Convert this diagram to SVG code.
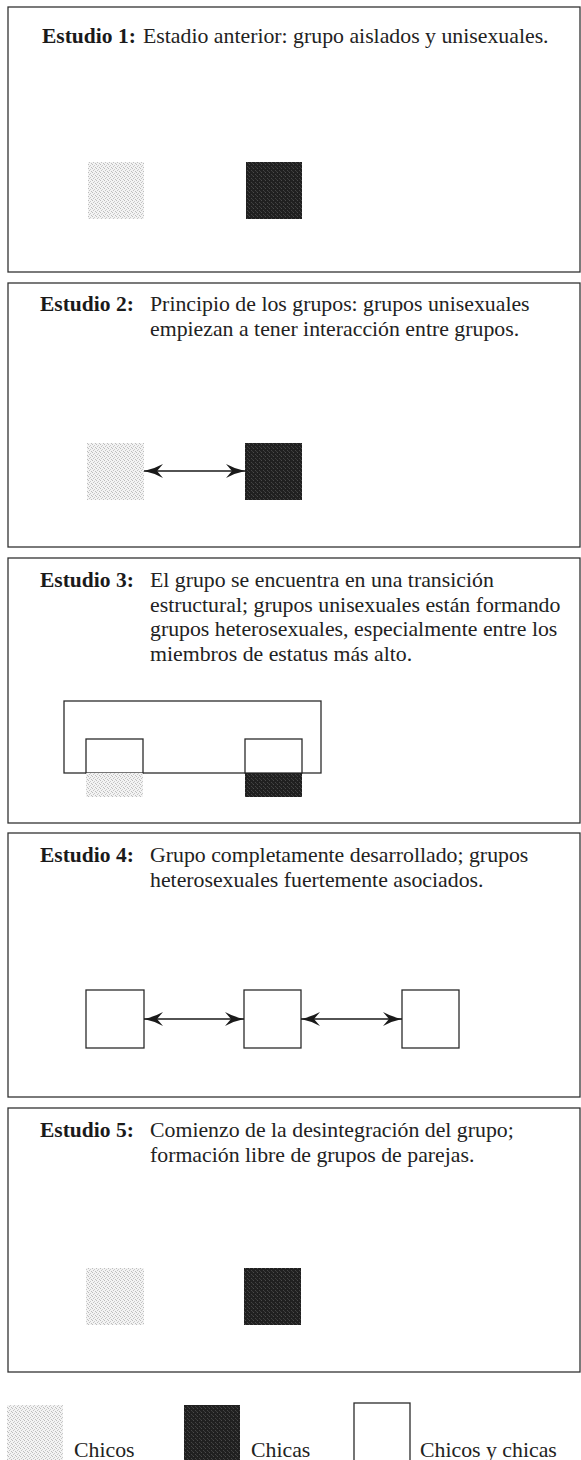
<svg xmlns="http://www.w3.org/2000/svg" width="581" height="1460" viewBox="0 0 581 1460">
<style>
.panel{fill:#fff;stroke:#333;stroke-width:1.3}
.lbl{font-family:"Liberation Serif","Times New Roman",serif;font-size:21.5px;font-weight:bold;fill:#1a1a1a}
.txt{font-family:"Liberation Serif","Times New Roman",serif;font-size:21.8px;fill:#222}
.boy{fill:url(#pBoy)}
.girl{fill:url(#pGirl)}
.mix{fill:#fff;stroke:#2b2b2b;stroke-width:1.3}
.conn{stroke:#1a1a1a;stroke-width:1.5;fill:none;marker-start:url(#ah);marker-end:url(#ah)}
</style>
<defs>
<pattern id="pBoy" width="4" height="4" patternUnits="userSpaceOnUse">
<rect width="4" height="4" fill="#f3f3f3"/>
<rect x="0" y="0" width="1" height="1" fill="#bdbdbd"/>
<rect x="2" y="1" width="1" height="1" fill="#cacaca"/>
<rect x="1" y="2" width="1" height="1" fill="#c4c4c4"/>
<rect x="3" y="3" width="1" height="1" fill="#bebebe"/>
</pattern>
<pattern id="pGirl" width="4" height="4" patternUnits="userSpaceOnUse">
<rect width="4" height="4" fill="#202020"/>
<rect x="1" y="0" width="1" height="1" fill="#4a4a4a"/>
<rect x="3" y="2" width="1" height="1" fill="#444"/>
<rect x="0" y="3" width="1" height="1" fill="#3a3a3a"/>
</pattern>
<marker id="ah" viewBox="0 0 19 14" refX="19" refY="7" markerWidth="19" markerHeight="14" markerUnits="userSpaceOnUse" orient="auto-start-reverse">
<path d="M0,0 Q9,5 19,7 Q9,9 0,14 L6,7 Z" fill="#1a1a1a"/>
</marker>
</defs>

<g id="stage1">
<rect class="panel" x="8" y="7" width="572" height="265"/>
<text class="lbl" x="42" y="43">Estudio 1:</text>
<text class="txt" x="143" y="43">Estadio anterior: grupo aislados y unisexuales.</text>
<rect id="s1-boys" class="boy" x="88" y="162" width="56" height="57"/>
<rect id="s1-girls" class="girl" x="246" y="162" width="56" height="57"/>
</g>

<g id="stage2">
<rect class="panel" x="8" y="283" width="572" height="264"/>
<text class="lbl" x="40" y="311">Estudio 2:</text>
<text class="txt" x="150" y="311">Principio de los grupos: grupos unisexuales</text>
<text class="txt" x="150" y="336">empiezan a tener interacción entre grupos.</text>
<rect id="s2-boys" class="boy" x="87" y="443" width="57" height="57"/>
<rect id="s2-girls" class="girl" x="245" y="443" width="57" height="57"/>
</g>

<g id="stage3">
<rect class="panel" x="8" y="558" width="572" height="265"/>
<text class="lbl" x="40" y="587">Estudio 3:</text>
<text class="txt" x="150" y="587">El grupo se encuentra en una transición</text>
<text class="txt" x="150" y="612">estructural; grupos unisexuales están formando</text>
<text class="txt" x="150" y="636">grupos heterosexuales, especialmente entre los</text>
<text class="txt" x="150" y="661">miembros de estatus más alto.</text>
<rect id="s3-group" class="mix" x="64" y="701" width="257" height="72"/>
<g id="s3-boys">
<rect class="mix" x="86" y="739" width="57" height="34"/>
<rect class="boy" x="86" y="773" width="57" height="24"/>
</g>
<g id="s3-girls">
<rect class="mix" x="245" y="739" width="57" height="34"/>
<rect class="girl" x="245" y="773" width="57" height="24"/>
</g>
</g>

<g id="stage4">
<rect class="panel" x="8" y="833" width="572" height="264"/>
<text class="lbl" x="40" y="862">Estudio 4:</text>
<text class="txt" x="150" y="862">Grupo completamente desarrollado; grupos</text>
<text class="txt" x="150" y="887">heterosexuales fuertemente asociados.</text>
<rect id="s4-a" class="mix" x="86" y="990" width="58" height="58"/>
<rect id="s4-b" class="mix" x="244" y="990" width="57" height="58"/>
<rect id="s4-c" class="mix" x="402" y="990" width="57" height="58"/>
</g>

<g id="stage5">
<rect class="panel" x="8" y="1108" width="572" height="264"/>
<text class="lbl" x="40" y="1137">Estudio 5:</text>
<text class="txt" x="150" y="1137">Comienzo de la desintegración del grupo;</text>
<text class="txt" x="150" y="1162">formación libre de grupos de parejas.</text>
<rect id="s5-boys" class="boy" x="86" y="1268" width="58" height="57"/>
<rect id="s5-girls" class="girl" x="244" y="1268" width="57" height="57"/>
</g>

<g id="connectors">
<line class="conn" x1="144" y1="471" x2="245" y2="471"/>
<line class="conn" x1="144" y1="1019" x2="244" y2="1019"/>
<line class="conn" x1="301" y1="1019" x2="402" y2="1019"/>
</g>

<g id="legend">
<g id="leg-boys">
<rect class="boy" x="7" y="1405" width="56" height="60"/>
<text class="txt" x="74" y="1457">Chicos</text>
</g>
<g id="leg-girls">
<rect class="girl" x="184" y="1405" width="56" height="60"/>
<text class="txt" x="251" y="1457">Chicas</text>
</g>
<g id="leg-mix">
<rect class="mix" x="354" y="1403" width="56" height="70"/>
<text class="txt" x="420" y="1457">Chicos y chicas</text>
</g>
</g>
</svg>
